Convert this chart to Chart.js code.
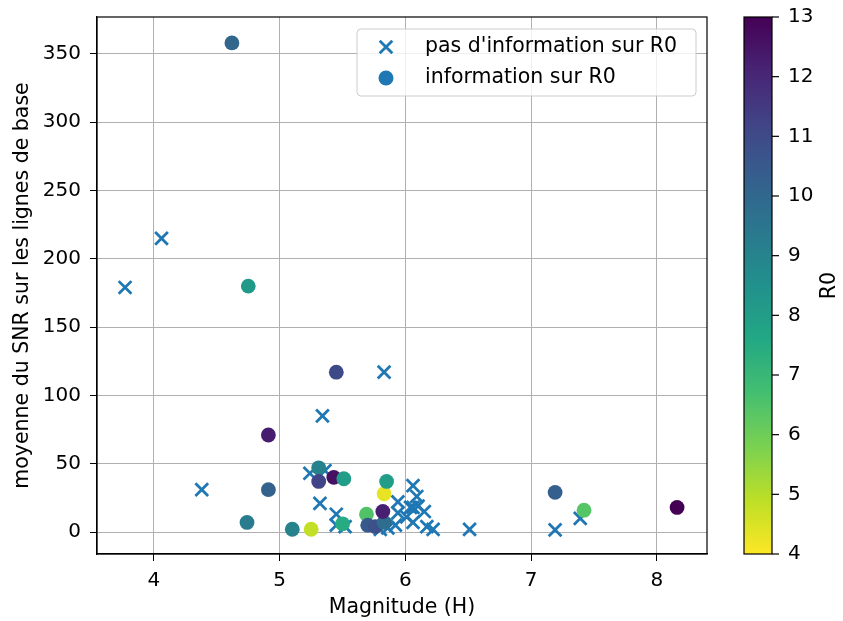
<!DOCTYPE html>
<html>
<head>
<meta charset="utf-8">
<script src="https://cdn.jsdelivr.net/npm/chart.js@4/dist/chart.umd.min.js"></script>
<style>
  html, body { margin: 0; padding: 0; background: #fff; }
  #wrap { width: 843px; height: 621px; }
</style>
</head>
<body>
<div id="wrap"><canvas id="myChart" width="843" height="621"></canvas></div>
<script>
// points without R0 information: magnitude H, mean SNR
const magSans = [3.77, 4.06, 4.38, 5.34, 5.83, 5.24, 5.36, 5.32, 5.45, 5.45, 5.52, 5.80, 5.86, 5.92, 5.94,
                 5.94, 6.01, 6.04, 6.06, 6.06, 6.06, 6.09, 6.10, 6.15, 6.17, 6.22, 6.51, 7.19, 7.39];
const snrSans = [179, 215, 31, 85, 117, 43, 45, 21, 13, 5, 4, 2, 3, 5, 22,
                 14, 11, 18, 34, 18, 7, 26, 19, 15, 4, 2, 2, 1.5, 10];

// points with R0 information
const magAvec = [4.62, 4.75, 5.45, 4.91, 4.91, 4.74, 5.10, 5.25, 5.31, 5.31, 5.43, 5.51,
                 5.50, 5.69, 5.70, 5.76, 5.83, 5.82, 5.83, 5.85, 7.19, 7.42, 8.16];
const snrAvec = [358, 180, 117, 71, 31, 7, 2, 2, 47, 37, 40, 39,
                 6, 13, 5, 4, 7, 15, 28, 37, 29, 16, 18];
const r0Avec  = [10, 8.2, 11, 12.3, 10.2, 9.3, 9.0, 4.8, 9.0, 11.2, 12.6, 8.0,
                 7.5, 6.5, 10.5, 10.8, 9.8, 12.2, 4.3, 8.0, 10.3, 6.4, 13.0];

const xTicks = [4, 5, 6, 7, 8];
const yTicks = [0, 50, 100, 150, 200, 250, 300, 350];
const cbarTicks = [4, 5, 6, 7, 8, 9, 10, 11, 12, 13];
const r0Min = 4, r0Max = 13;

const labelSans = "pas d'information sur R0";
const labelAvec = 'information sur R0';

const FONT = "'DejaVu Sans', sans-serif";
const TICK_SIZE = 20;
const LABEL_SIZE = 20.5;

// viridis colour map
const viridisStops = ['#440154', '#482475', '#414487', '#355f8d', '#2a788e', '#21918c',
                      '#22a884', '#44bf70', '#7ad151', '#bddf26', '#fde725'];
function hexToRgb(h) {
    return [parseInt(h.slice(1, 3), 16), parseInt(h.slice(3, 5), 16), parseInt(h.slice(5, 7), 16)];
}
function viridis(t) {
    t = Math.max(0, Math.min(1, t));
    const p = t * (viridisStops.length - 1);
    const i = Math.min(Math.floor(p), viridisStops.length - 2);
    const f = p - i;
    const a = hexToRgb(viridisStops[i]), b = hexToRgb(viridisStops[i + 1]);
    const c = a.map((v, k) => Math.round(v + (b[k] - v) * f));
    return 'rgb(' + c.join(',') + ')';
}
// reversed map: low R0 yellow, high R0 purple
function r0Color(v) {
    return viridis((r0Max - v) / (r0Max - r0Min));
}

const sansPoints = magSans.map((x, i) => ({ x: x, y: snrSans[i] }));
const avecPoints = magAvec.map((x, i) => ({ x: x, y: snrAvec[i] }));

// frame, legend and colour bar
const decorPlugin = {
    id: 'decor',
    afterDatasetsDraw(chart) {
        const ctx = chart.ctx;
        const a = chart.chartArea;
        ctx.save();
        ctx.strokeStyle = '#000';
        ctx.lineWidth = 1.2;
        ctx.strokeRect(a.left, a.top, a.right - a.left, a.bottom - a.top);

        // legend box
        const lx = 357, ly = 29, lw = 339, lh = 67, r = 4;
        ctx.beginPath();
        ctx.moveTo(lx + r, ly);
        ctx.arcTo(lx + lw, ly, lx + lw, ly + lh, r);
        ctx.arcTo(lx + lw, ly + lh, lx, ly + lh, r);
        ctx.arcTo(lx, ly + lh, lx, ly, r);
        ctx.arcTo(lx, ly, lx + lw, ly, r);
        ctx.closePath();
        ctx.fillStyle = 'rgba(255,255,255,0.8)';
        ctx.fill();
        ctx.strokeStyle = '#cccccc';
        ctx.lineWidth = 1;
        ctx.stroke();

        // cross marker
        ctx.strokeStyle = '#1f77b4';
        ctx.lineWidth = 2.8;
        const cx = 386, cy = 47, d = 6.3;
        ctx.beginPath();
        ctx.moveTo(cx - d, cy - d); ctx.lineTo(cx + d, cy + d);
        ctx.moveTo(cx - d, cy + d); ctx.lineTo(cx + d, cy - d);
        ctx.stroke();
        // circle marker
        ctx.fillStyle = '#1f77b4';
        ctx.beginPath();
        ctx.arc(386, 78, 7.5, 0, Math.PI * 2);
        ctx.fill();

        ctx.fillStyle = '#000';
        ctx.font = LABEL_SIZE + 'px ' + FONT;
        ctx.textBaseline = 'middle';
        ctx.textAlign = 'left';
        ctx.fillText(labelSans, 425, 47);
        ctx.fillText(labelAvec, 425, 78);

        // colour bar
        const bx = 744, bw = 28;
        const top = a.top, bottom = a.bottom;
        const grad = ctx.createLinearGradient(0, bottom, 0, top);
        for (let i = 0; i <= 20; i++) {
            const v = r0Min + (r0Max - r0Min) * i / 20;
            grad.addColorStop(i / 20, r0Color(v));
        }
        ctx.fillStyle = grad;
        ctx.fillRect(bx, top, bw, bottom - top);
        ctx.strokeStyle = '#000';
        ctx.lineWidth = 1.2;
        ctx.strokeRect(bx, top, bw, bottom - top);

        ctx.font = TICK_SIZE + 'px ' + FONT;
        ctx.fillStyle = '#000';
        ctx.textAlign = 'left';
        ctx.textBaseline = 'middle';
        cbarTicks.forEach(v => {
            const y = bottom - (v - r0Min) / (r0Max - r0Min) * (bottom - top);
            ctx.beginPath();
            ctx.moveTo(bx + bw, y);
            ctx.lineTo(bx + bw + 7, y);
            ctx.stroke();
            ctx.fillText(String(v), 788, y);
        });

        ctx.font = LABEL_SIZE + 'px ' + FONT;
        ctx.translate(830, (top + bottom) / 2);
        ctx.rotate(-Math.PI / 2);
        ctx.textAlign = 'center';
        ctx.textBaseline = 'middle';
        ctx.fillText('R0', 0, 0);
        ctx.restore();
    }
};

const ctx = document.getElementById('myChart');

new Chart(ctx, {
    type: 'scatter',
    data: {
        datasets: [{
            label: labelSans,
            data: sansPoints,
            pointStyle: 'crossRot',
            radius: 9,
            borderColor: '#1f77b4',
            borderWidth: 2.8,
            order: 2
        }, {
            label: labelAvec,
            data: avecPoints,
            pointStyle: 'circle',
            radius: 7.4,
            backgroundColor: r0Avec.map(r0Color),
            borderWidth: 0,
            order: 1
        }]
    },
    options: {
        responsive: false,
        animation: false,
        events: [],
        layout: {
            padding: { left: 0, right: 136, top: 17, bottom: 0 }
        },
        plugins: {
            legend: { display: false },
            tooltip: { enabled: false }
        },
        scales: {
            x: {
                type: 'linear',
                min: 3.547,
                max: 8.398,
                afterBuildTicks: axis => { axis.ticks = xTicks.map(v => ({ value: v })); },
                afterFit: axis => { axis.height = 67; axis.paddingLeft = 0; axis.paddingRight = 0; },
                grid: { color: '#b0b0b0', lineWidth: 1, tickColor: '#000', tickLength: 7 },
                border: { color: '#000', width: 1.2 },
                ticks: { color: '#000', font: { size: TICK_SIZE, family: FONT }, padding: 8, maxRotation: 0 },
                title: { display: true, text: 'Magnitude (H)', color: '#000',
                         font: { size: LABEL_SIZE, family: FONT }, padding: { top: 0, bottom: 1 } }
            },
            y: {
                type: 'linear',
                min: -16.1,
                max: 377,
                afterBuildTicks: axis => { axis.ticks = yTicks.map(v => ({ value: v })); },
                afterFit: axis => { axis.width = 97; axis.paddingTop = 0; axis.paddingBottom = 0; },
                grid: { color: '#b0b0b0', lineWidth: 1, tickColor: '#000', tickLength: 7 },
                border: { color: '#000', width: 1.2 },
                ticks: { color: '#000', font: { size: TICK_SIZE, family: FONT }, padding: 9 },
                title: { display: true, text: 'moyenne du SNR sur les lignes de base', color: '#000',
                         font: { size: LABEL_SIZE, family: FONT }, padding: { top: 10, bottom: 0 } }
            }
        }
    },
    plugins: [decorPlugin]
});
</script>
</body>
</html>
